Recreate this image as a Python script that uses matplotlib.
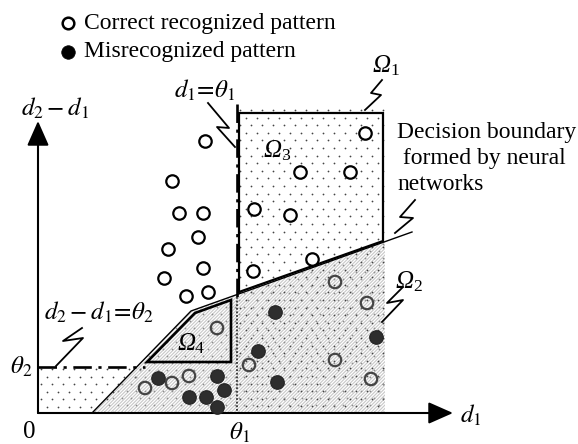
import matplotlib
matplotlib.use('Agg')
import matplotlib.pyplot as plt
from matplotlib.patches import Polygon
from matplotlib.path import Path
import numpy as np

plt.rcParams['font.family'] = ['Liberation Serif', 'DejaVu Serif']
plt.rcParams['mathtext.fontset'] = 'stix'
plt.rcParams['hatch.linewidth'] = 0.8
plt.rcParams['hatch.color'] = '#c8c8c8'

# Pattern positions (picture pixels, y down)
open_x = [205, 172, 179, 203, 198, 168, 203, 164, 208, 186,
          254, 253, 365, 300, 350, 290, 312]
open_y = [141, 181, 213, 213, 237, 249, 268, 278, 292, 296,
          209, 271, 133, 172, 172, 215, 259]
open_gray_x = [335, 367, 249, 335, 371, 217, 172, 189, 145]
open_gray_y = [282, 303, 365, 360, 379, 328, 383, 376, 388]
miss_x = [275, 376, 258, 277, 158, 217, 224, 189, 206, 217]
miss_y = [312, 337, 351, 382, 378, 376, 390, 397, 397, 407]

# Regions and lines
origin = (38, 413)
boundary_x = [92, 191, 412]
boundary_y = [413, 311, 232]
theta1_x = 237
theta2_y = 367
omega3_x = [239, 383, 383, 239]
omega3_y = [113, 113, 241, 292]
omega4_x = [147, 195, 231, 231]
omega4_y = [362, 313, 300, 362]

leaders = {
    'theta1': ([208, 229, 217, 235], [103, 128, 127, 147]),
    'theta2': ([82, 63, 83, 56], [328, 341, 338, 366]),
    'omega1': ([382, 371, 381, 365], [80, 93, 95, 110]),
    'omega2': ([403, 387, 403, 382], [287, 303, 300, 322]),
    'boundary': ([415, 400, 413, 395], [200, 217, 218, 233]),
}

# region labels: (x, y, subscript)
omega_labels = [(382, 66, '1'), (405, 282, '2'), (273, 151, '3'), (187, 344, '4')]

fig = plt.figure(figsize=(5.78, 4.44), dpi=100)
ax = fig.add_axes([0, 0, 1, 1])
ax.set_xlim(0, 578)
ax.set_ylim(444, 0)
ax.axis('off')


def line_y(x):
    return np.interp(x, boundary_x, boundary_y)


# hatched region Omega2
right_edge = 385
om2 = [(boundary_x[0], boundary_y[0]), (boundary_x[1], boundary_y[1]),
       (right_edge, line_y(right_edge)), (right_edge, origin[1])]
ax.add_patch(Polygon(om2, closed=True, facecolor='white', edgecolor='#c8c8c8',
                     hatch='/' * 10, lw=0, zorder=1))


# dot texture
def dots(poly, color, dx=11, dy=7.6):
    path = Path(poly)
    xs, ys = [], []
    xmin = min(p[0] for p in poly); xmax = max(p[0] for p in poly)
    ymin = min(p[1] for p in poly); ymax = max(p[1] for p in poly)
    for i, yy in enumerate(np.arange(ymin + 2, ymax, dy)):
        off = (dx / 2) * (i % 2)
        for xx in np.arange(xmin + 3 + off, xmax, dx):
            xs.append(xx); ys.append(yy)
    pts = np.column_stack([xs, ys])
    m = path.contains_points(pts)
    ax.scatter(pts[m, 0], pts[m, 1], s=1.6, color=color, lw=0, zorder=2)


dots([(theta1_x, 108), (right_edge + 1, 108), (right_edge + 1, origin[1]),
      (theta1_x, origin[1])], '#444444')
dots([(origin[0], theta2_y), (146, theta2_y), (boundary_x[0] + 2, origin[1]),
      (origin[0], origin[1])], '#444444')
dots(om2, '#909090', dx=9, dy=7)

# boundary line and region outlines
ax.plot(boundary_x, boundary_y, color='black', lw=1.0, zorder=3)
ax.add_patch(Polygon(np.column_stack([omega3_x, omega3_y]), closed=True,
                     fill=False, edgecolor='black', lw=1.6, zorder=4))
ax.add_patch(Polygon(np.column_stack([omega4_x, omega4_y]), closed=True,
                     fill=False, edgecolor='black', lw=1.9, zorder=4))

# threshold lines
ax.plot([theta1_x, theta1_x], [104, 297], color='black', lw=1.9,
        dashes=(7, 2.5, 1.2, 2.5), zorder=4)
ax.plot([theta1_x, theta1_x], [297, origin[1]], color='#333333', lw=1.3,
        dashes=(1, 1), zorder=4)
ax.plot([origin[0], 145], [theta2_y, theta2_y], color='black', lw=1.9,
        dashes=(7, 2.5, 1.2, 2.5), zorder=4)

# axes with arrows
arrow = dict(arrowstyle='-|>,head_length=0.95,head_width=0.42', color='black',
             lw=1.5, shrinkA=0, shrinkB=0, mutation_scale=16)
ax.annotate('', xy=(origin[0], 121), xytext=origin, arrowprops=arrow, zorder=5)
ax.annotate('', xy=(453, origin[1]), xytext=origin, arrowprops=arrow, zorder=5)

# leaders
for lx, ly in leaders.values():
    ax.plot(lx, ly, color='black', lw=1.3, zorder=5, solid_joinstyle='round')

# patterns
ax.scatter(open_x, open_y, s=80, facecolor='white', edgecolor='black',
           lw=1.6, zorder=6)
ax.scatter(open_gray_x, open_gray_y, s=80, facecolor='none', edgecolor='#444444',
           lw=1.6, zorder=6)
ax.scatter(miss_x, miss_y, s=95, facecolor='#2e2e2e', edgecolor='#222222',
           lw=0.8, zorder=6)

# legend
ax.scatter([68], [23], s=70, facecolor='white', edgecolor='black', lw=1.8, zorder=6)
ax.scatter([68], [52], s=95, facecolor='black', edgecolor='black', lw=0.5, zorder=6)
fs = 17
ms = 18
ax.text(84, 23, 'Correct recognized pattern', fontsize=fs, va='center', ha='left')
ax.text(84, 52, 'Misrecognized pattern', fontsize=fs, va='center', ha='left')

# labels
ax.text(21, 108, r'$d_2 - d_1$', fontsize=ms, va='center', ha='left')
ax.text(174, 90, r'$d_1\!=\!\theta_1$', fontsize=ms, va='center', ha='left')
ax.text(44, 312, r'$d_2 - d_1\!=\!\theta_2$', fontsize=ms, va='center', ha='left')
ax.text(21, 367, r'$\theta_2$', fontsize=ms, va='center', ha='center')
ax.text(29, 432, '0', fontsize=ms, va='center', ha='center')
ax.text(theta1_x + 2, 433, r'$\theta_1$', fontsize=ms, va='center', ha='center')
ax.text(471, 415, r'$d_1$', fontsize=ms, va='center', ha='center')
for ox, oy, sub in omega_labels:
    ax.text(ox, oy, 'Ω', fontsize=ms, style='italic', va='center', ha='center',
            zorder=7)
    ax.text(ox + 8, oy + 5, sub, fontsize=ms * 0.7, va='center', ha='left',
            zorder=7)

ax.text(397, 132, 'Decision boundary', fontsize=fs, va='center', ha='left')
ax.text(397, 158, ' formed by neural', fontsize=fs, va='center', ha='left')
ax.text(397, 184, 'networks', fontsize=fs, va='center', ha='left')

fig.savefig('out.png', dpi=100)
